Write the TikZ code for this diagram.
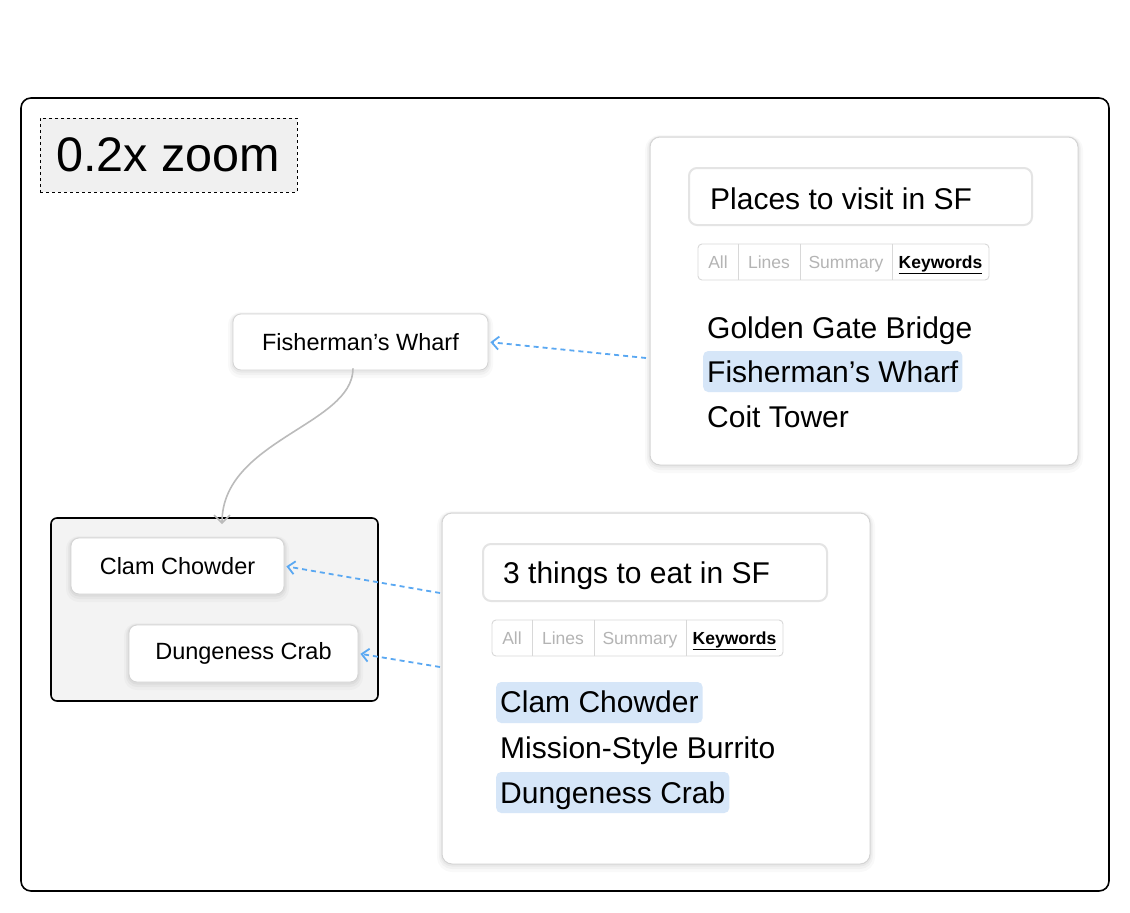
\documentclass[tikz,border=0pt]{standalone}
\usepackage{fontspec}
\setmainfont{Liberation Sans}
\usetikzlibrary{arrows.meta}
\definecolor{hlblue}{HTML}{D6E6F8}
\definecolor{linkblue}{HTML}{5AA8F2}
\definecolor{cardline}{HTML}{D4D4D4}
\definecolor{boxline}{HTML}{E4E4E4}
\definecolor{tabline}{HTML}{D8D8D8}
\definecolor{tabtext}{HTML}{B4B4B4}
\definecolor{groupfill}{HTML}{F3F3F3}
\definecolor{zoomfill}{HTML}{F0F0F0}
\definecolor{curvegray}{HTML}{BBBBBB}
\newcommand{\fsz}[1]{\fontsize{#1}{#1}\selectfont}
\begin{document}
\begin{tikzpicture}[x=1pt,y=-1pt,
  softshadow/.style={
    preaction={draw=black,draw opacity=0.025,line width=10pt,transform canvas={yshift=-3pt}},
    preaction={draw=black,draw opacity=0.03,line width=6pt,transform canvas={yshift=-2pt}},
    preaction={draw=black,draw opacity=0.035,line width=3pt,transform canvas={yshift=-1pt}}},
  card/.style={draw=cardline,line width=1pt,fill=white,rounded corners=10pt,softshadow,inner sep=0pt},
  item/.style={draw=cardline,line width=0.8pt,fill=white,rounded corners=8pt,softshadow,inner sep=0pt,font=\fsz{23.5}},
  titlebox/.style={draw=boxline,line width=2pt,fill=white,rounded corners=8pt,inner sep=0pt},
  ttl/.style={font=\fsz{30},inner sep=0pt},
  tabsbox/.style={draw=tabline,line width=0.9pt,rounded corners=4pt,inner sep=0pt,minimum height=36pt},
  tab/.style={inner sep=0pt,minimum height=36pt,text height=13pt,text depth=0pt,font=\fsz{17.5},text=tabtext},
  tabon/.style={tab,text=black,font=\fsz{17.5}\bfseries},
  listitem/.style={font=\fsz{30},inner sep=0pt},
  hl/.style={listitem,fill=hlblue,rounded corners=5pt,inner xsep=4pt,inner ysep=0pt},
  link/.style={draw=linkblue,line width=1.8pt,dash pattern=on 5pt off 4pt,-{Straight Barb[length=7pt,width=13pt,line width=1.8pt]},shorten >=2pt},
  flow/.style={draw=curvegray,line width=1.6pt,-{Straight Barb[length=8pt,width=16pt,line width=1.6pt]}}
]
\useasboundingbox (0,0) rectangle (1130,913);

% outer frame
\node[draw=black,line width=1.6pt,rounded corners=10pt,minimum width=1088pt,minimum height=793pt,inner sep=0pt] (frame) at (565,494.5) {};

% zoom label
\node[draw=black,dashed,line width=0.8pt,fill=zoomfill,minimum width=257pt,minimum height=74pt,inner sep=0pt] (zoombox) at (168.5,155) {};
\node[font=\fsz{48.5},inner sep=0pt,anchor=base west] (zoomtxt) at (56,171) {0.2x zoom};

% top-right card
\node[card,minimum width=428pt,minimum height=328pt] (card1) at (864,301) {};
\node[titlebox,minimum width=343pt,minimum height=57pt] (title1) at (860.5,196.5) {};
\node[ttl,anchor=base west] (title1txt) at (710,209) {Places to visit in SF};
\node[tabsbox,minimum width=291pt] (tabs1) at (843.5,262) {};
\node[tab,minimum width=40pt] (t1a) at (718,262) {All};
\node[tab,minimum width=62pt] (t1b) at (769,262) {Lines};
\node[tab,minimum width=92pt] (t1c) at (846,262) {Summary};
\node[tabon,minimum width=97pt] (t1d) at (940.5,262) {\underline{Keywords}};
\draw[tabline,line width=0.9pt] (t1a.north east) -- (t1a.south east)
  (t1b.north east) -- (t1b.south east) (t1c.north east) -- (t1c.south east);
\node[listitem,anchor=base west] (k1) at (707,338) {Golden Gate Bridge};
\node[hl,anchor=base west,text height=31pt,text depth=10pt] (k2) at (703,382) {Fisherman’s Wharf};
\node[listitem,anchor=base west] (k3) at (707,427) {Coit Tower};

% bottom card
\node[card,minimum width=428pt,minimum height=351pt] (card2) at (656,688.5) {};
\node[titlebox,minimum width=344pt,minimum height=57pt] (title2) at (655,572.5) {};
\node[ttl,anchor=base west] (title2txt) at (503,583) {3 things to eat in SF};
\node[tabsbox,minimum width=291pt] (tabs2) at (637.5,638) {};
\node[tab,minimum width=40pt] (t2a) at (512,638) {All};
\node[tab,minimum width=62pt] (t2b) at (563,638) {Lines};
\node[tab,minimum width=92pt] (t2c) at (640,638) {Summary};
\node[tabon,minimum width=97pt] (t2d) at (734.5,638) {\underline{Keywords}};
\draw[tabline,line width=0.9pt] (t2a.north east) -- (t2a.south east)
  (t2b.north east) -- (t2b.south east) (t2c.north east) -- (t2c.south east);
\node[hl,anchor=base west,text height=30pt,text depth=11pt] (f1) at (496,712) {Clam Chowder};
\node[listitem,anchor=base west] (f2) at (500,758) {Mission-Style Burrito};
\node[hl,anchor=base west,text height=31pt,text depth=10pt] (f3) at (496,803) {Dungeness Crab};

% Fisherman's Wharf node
\node[item,minimum width=255pt,minimum height=56pt] (fw) at (360.5,342) {Fisherman’s Wharf};

% group
\node[draw=black,line width=1.6pt,fill=groupfill,rounded corners=6pt,minimum width=327pt,minimum height=183pt,inner sep=0pt] (group) at (214.5,609.5) {};
\node[item,minimum width=213pt,minimum height=56pt] (clam) at (177.5,566) {Clam Chowder};
\node[item,minimum width=229pt,minimum height=57pt] (crab) at (243.5,653.5) {Dungeness Crab};

% connectors
\coordinate (s1) at (646,358);
\coordinate (s2) at (440,593);
\coordinate (s3) at (440,667);
\draw[link] (s1) -- (fw.east);
\draw[link] (s2) -- (clam.east);
\draw[link] (s3) -- (crab.east);
\coordinate (fwout) at ([xshift=-7.5pt,yshift=2pt]fw.south);
\coordinate (grin) at ([xshift=7.5pt,yshift=-7pt]group.north);
\draw[flow] (fwout) .. controls (353,425) and (222,440) .. (grin);
\end{tikzpicture}
\end{document}
